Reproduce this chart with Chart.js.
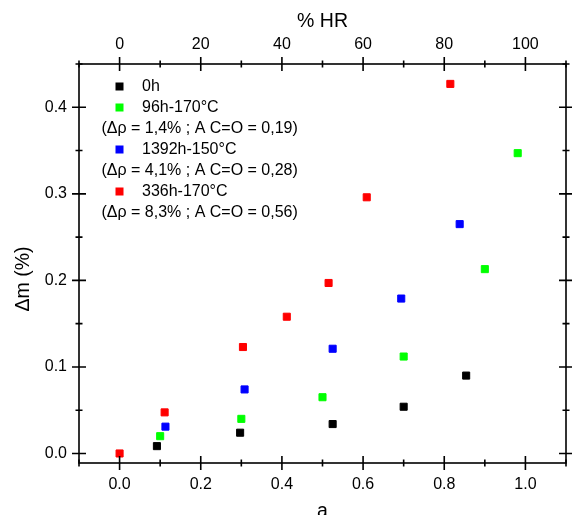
<!DOCTYPE html>
<html>
<head>
<meta charset="utf-8">
<script src="https://cdn.jsdelivr.net/npm/chart.js@4"></script>
<style>
  body { margin: 0; background: #fff; }
  #box { width: 572px; height: 515px; position: relative; }
</style>
</head>
<body>
<div id="box"><canvas id="graf"></canvas></div>
<script>
// valeurs : activite de l'eau a -> prise de masse (%)
const a0h = [0.092, 0.297, 0.525, 0.70, 0.854]
const dm0h = [0.0085, 0.024, 0.034, 0.054, 0.090]

const a96 = [0.10, 0.30, 0.50, 0.70, 0.90, 0.981]
const dm96 = [0.020, 0.040, 0.065, 0.112, 0.213, 0.347]

const a1392 = [0.113, 0.308, 0.525, 0.694, 0.838]
const dm1392 = [0.031, 0.074, 0.121, 0.179, 0.265]

const a336 = [0, 0.111, 0.304, 0.412, 0.515, 0.609, 0.815]
const dm336 = [0, 0.0475, 0.123, 0.158, 0.197, 0.296, 0.427]

const series = ['0h', '96h-170°C', '1392h-150°C', '336h-170°C']
const notes = ['', '(Δρ = 1,4% ; A C=O = 0,19)', '(Δρ = 4,1% ; A C=O = 0,28)', '(Δρ = 8,3% ; A C=O = 0,56)']
const couleurs = ['#000000', '#00ff00', '#0000ff', '#ff0000']

// graduations
const aTicks = [0, 0.2, 0.4, 0.6, 0.8, 1.0]
const aMinor = [-0.1, 0.1, 0.3, 0.5, 0.7, 0.9, 1.1]
const hrTicks = [0, 20, 40, 60, 80, 100]
const hrMinor = [-10, 10, 30, 50, 70, 90, 110]
const dmTicks = [0, 0.1, 0.2, 0.3, 0.4]
const dmMinor = [0.05, 0.15, 0.25, 0.35, 0.45]

const police = "'Liberation Sans', Arial, sans-serif"

function pts(xs, ys) {
  return xs.map((x, i) => ({ x: x, y: ys[i] }))
}

const donnees = [pts(a0h, dm0h), pts(a96, dm96), pts(a1392, dm1392), pts(a336, dm336)]

// cadre + graduations qui traversent les axes
const cadre = {
  id: 'cadre',
  afterDraw(chart) {
    const ctx = chart.ctx
    const ca = chart.chartArea
    const sx = chart.scales.x, sx2 = chart.scales.x2, sy = chart.scales.y
    ctx.save()
    ctx.strokeStyle = '#000'
    ctx.lineWidth = 1.6
    ctx.strokeRect(ca.left, ca.top, ca.right - ca.left, ca.bottom - ca.top)
    ctx.beginPath()
    function vtick(px, y, l) { ctx.moveTo(px, y - l); ctx.lineTo(px, y + l) }
    function htick(py, x, l) { ctx.moveTo(x - l, py); ctx.lineTo(x + l, py) }
    aTicks.forEach(v => vtick(sx.getPixelForValue(v), ca.bottom, 7))
    aMinor.forEach(v => vtick(sx.getPixelForValue(v), ca.bottom, 3.5))
    hrTicks.forEach(v => vtick(sx2.getPixelForValue(v), ca.top, 7))
    hrMinor.forEach(v => vtick(sx2.getPixelForValue(v), ca.top, 3.5))
    dmTicks.forEach(v => { htick(sy.getPixelForValue(v), ca.left, 7); htick(sy.getPixelForValue(v), ca.right, 7) })
    dmMinor.forEach(v => { htick(sy.getPixelForValue(v), ca.left, 3.5); htick(sy.getPixelForValue(v), ca.right, 3.5) })
    ctx.stroke()

    // titre de l'axe y (un peu plus bas que le milieu, comme sur l'original)
    ctx.save()
    ctx.translate(24, 279)
    ctx.rotate(-Math.PI / 2)
    ctx.font = '19.5px ' + police
    ctx.textAlign = 'center'
    ctx.textBaseline = 'middle'
    ctx.fillStyle = '#000'
    ctx.fillText('Δm (%)', 0, 0)
    ctx.restore()

    // legende dans le cadre
    ctx.font = '16px ' + police
    ctx.textBaseline = 'middle'
    ctx.fillStyle = '#000'
    let y = ca.top + 22.5
    for (let i = 0; i < series.length; i++) {
      ctx.fillStyle = couleurs[i]
      ctx.fillRect(ca.left + 36.5, y - 4, 8, 8)
      ctx.fillStyle = '#000'
      ctx.textAlign = 'left'
      ctx.fillText(series[i], ca.left + 63, y)
      y += 21
      if (notes[i]) {
        ctx.fillText(notes[i], ca.left + 22.5, y)
        y += 21
      }
    }
    ctx.restore()
  }
}

const config = {
  type: 'scatter',
  data: {
    datasets: donnees.map((d, i) => ({
      label: series[i],
      data: d,
      xAxisID: 'x',
      yAxisID: 'y',
      pointStyle: 'rect',
      pointRadius: 5,
      pointHoverRadius: 5,
      borderWidth: 1,
      backgroundColor: couleurs[i],
      borderColor: couleurs[i]
    }))
  },
  options: {
    responsive: true,
    maintainAspectRatio: false,
    animation: false,
    layout: { padding: { left: 0, right: 3, top: 0, bottom: 0 } },
    plugins: { legend: { display: false }, tooltip: { enabled: false } },
    scales: {
      x: {
        type: 'linear',
        position: 'bottom',
        min: -0.1,
        max: 1.1,
        afterBuildTicks: s => { s.ticks = aTicks.map(v => ({ value: v })) },
        afterFit: s => { s.height = 52 },
        grid: { display: false, drawTicks: false },
        border: { display: false },
        ticks: { padding: 11.5, color: '#000', font: { family: police, size: 16 }, callback: v => v.toFixed(1), maxRotation: 0 },
        title: { display: true, text: 'a', color: '#000', font: { family: police, size: 19.5 }, padding: { top: 0, bottom: -8 } }
      },
      x2: {
        type: 'linear',
        position: 'top',
        min: -10,
        max: 110,
        afterBuildTicks: s => { s.ticks = hrTicks.map(v => ({ value: v })) },
        afterFit: s => { s.height = 64 },
        grid: { display: false, drawTicks: false },
        border: { display: false },
        ticks: { padding: 10, color: '#000', font: { family: police, size: 16 }, maxRotation: 0 },
        title: { display: true, text: '% HR', color: '#000', font: { family: police, size: 19.5 }, padding: { top: 10.3, bottom: 0 } }
      },
      y: {
        type: 'linear',
        position: 'left',
        min: -0.011,
        max: 0.45,
        afterBuildTicks: s => { s.ticks = dmTicks.map(v => ({ value: v })) },
        afterFit: s => { s.width = 79 },
        grid: { display: false, drawTicks: false },
        border: { display: false },
        ticks: { padding: 12, color: '#000', font: { family: police, size: 16 }, callback: v => v.toFixed(1) }
      }
    }
  },
  plugins: [cadre]
}

new Chart(document.getElementById('graf'), config)
</script>
</body>
</html>
